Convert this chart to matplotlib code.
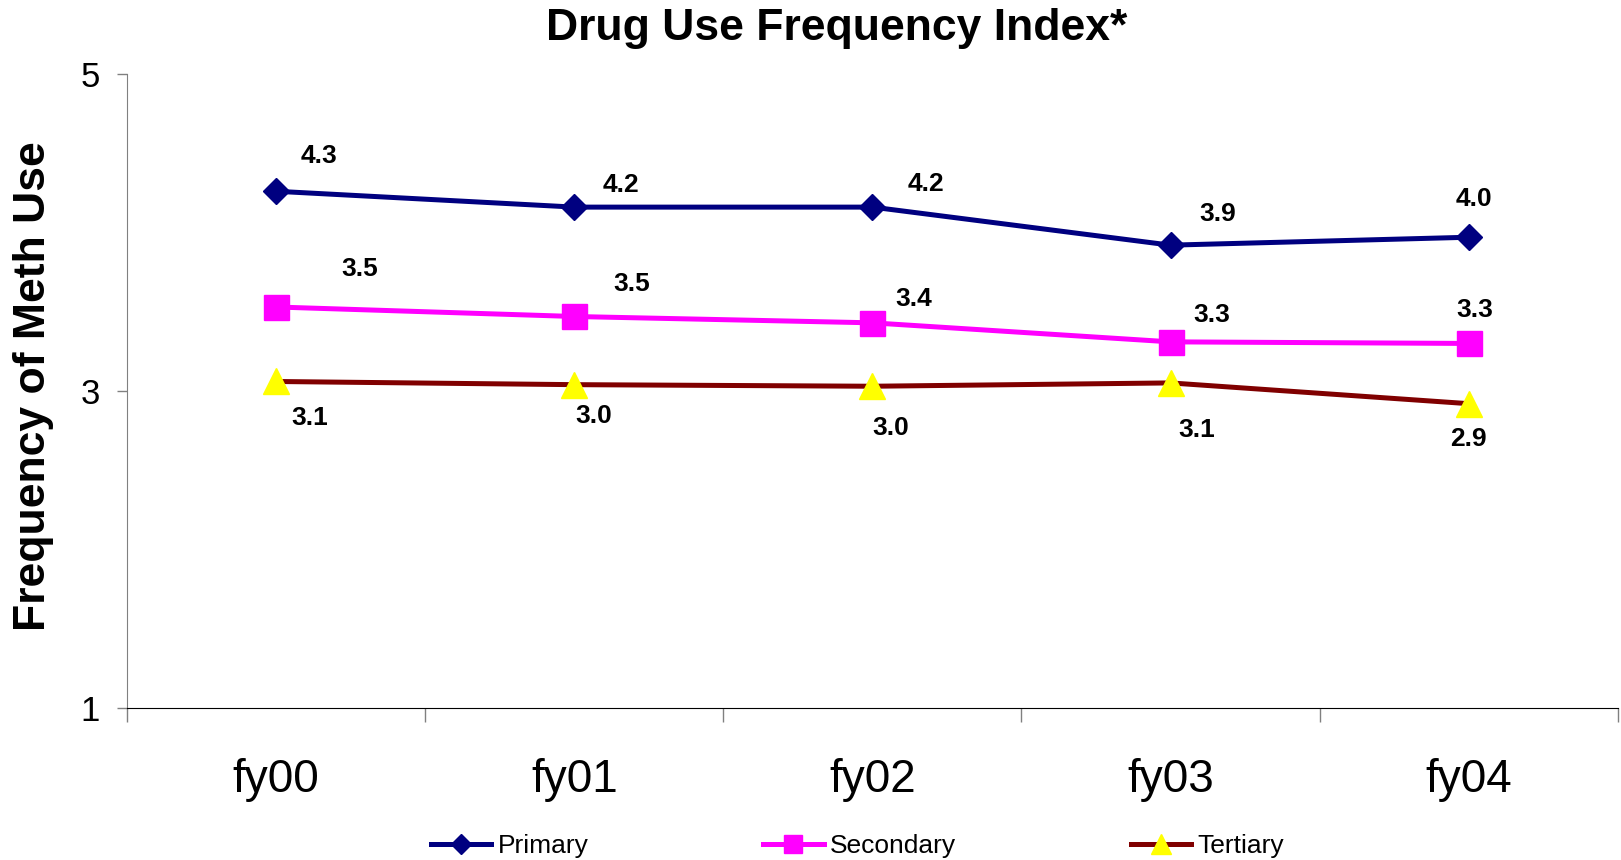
import matplotlib.pyplot as plt
import numpy as np

plt.rcParams['font.family'] = ['Liberation Sans', 'DejaVu Sans']

years = ['fy00', 'fy01', 'fy02', 'fy03', 'fy04']
primary = [4.26, 4.16, 4.16, 3.92, 3.97]
secondary = [3.53, 3.47, 3.43, 3.31, 3.30]
tertiary = [3.06, 3.04, 3.03, 3.051, 2.92]

# label offsets in pixels (dx, dy), as placed in the original
off_primary = [(43, 35), (47, 22), (54, 23), (47, 31), (5, 38)]
off_secondary = [(84, 38), (57, 32), (41, 24), (41, 27), (6, 33)]
off_tertiary = [(34, -37), (19, -31), (18, -42), (26, -47), (0, -35)]

x = np.arange(len(years))

fig = plt.figure(figsize=(16.21, 8.6), dpi=100)
ax = fig.add_axes([0.0784, 0.1767, 0.9196, 0.7373])

ax.plot(x, primary, color='#000080', lw=3.6, marker='D', ms=13.5,
        mfc='#000080', mec='#000080', label='Primary')
ax.plot(x, secondary, color='#FF00FF', lw=3.6, marker='s', ms=18,
        mfc='#FF00FF', mec='#FF00FF', label='Secondary')
ax.plot(x, tertiary, color='#800000', lw=3.6, marker='^', ms=19,
        mfc='#FFFF00', mec='#FFFF00', label='Tertiary')

for vals, offs in [(primary, off_primary), (secondary, off_secondary), (tertiary, off_tertiary)]:
    for xi, v, (dx, dy) in zip(x, vals, offs):
        ax.annotate('%.1f' % v, (xi, v), xytext=(dx, dy), textcoords='offset pixels',
                    ha='center', va='center', fontsize=19, fontweight='bold')

ax.set_xlim(-0.5, 4.5)
ax.set_ylim(1, 5)
ax.set_yticks([1, 3, 5])
ax.tick_params(axis='y', labelsize=25, length=7.5, width=1, color='#808080', pad=12)

ax.set_xticks(np.arange(-0.5, 5, 1))
ax.set_xticklabels([])
ax.set_xticks(x, minor=True)
ax.set_xticklabels(years, minor=True)
ax.tick_params(axis='x', which='major', length=10, width=1, color='#808080')
ax.tick_params(axis='x', which='minor', length=0, labelsize=33, pad=36)

ax.spines['top'].set_visible(False)
ax.spines['right'].set_visible(False)
ax.spines['left'].set_color('#808080')
ax.spines['bottom'].set_color('black')

fig.text(0.516, 0.967, 'Drug Use Frequency Index*', ha='center', va='center',
         fontsize=32, fontweight='bold')
fig.text(0.0204, 0.551, 'Frequency of Meth Use', ha='center', va='center',
         rotation=90, fontsize=32, fontweight='bold')

fig.legend(loc='center', bbox_to_anchor=(0.529, 0.016), ncol=3, frameon=False,
           fontsize=19, markerscale=0.75, handlelength=2.3, handletextpad=0.25,
           columnspacing=6.6)

plt.savefig('out.png', dpi=100)
plt.close()
